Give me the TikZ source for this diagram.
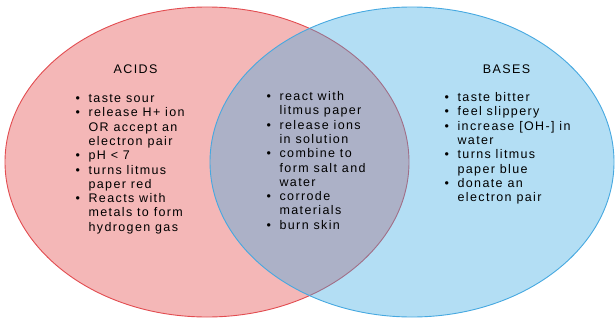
\documentclass[tikz,border=0pt]{standalone}
\usepackage{fontspec}
\setmainfont[LetterSpace=11]{Liberation Sans}
\usetikzlibrary{shapes.geometric}

\definecolor{acidfill}{RGB}{244,183,183}
\definecolor{acidedge}{RGB}{226,76,80}
\definecolor{basefill}{RGB}{55,168,226}
\definecolor{baseedge}{RGB}{70,168,224}

\tikzset{
  setshape/.style={draw,ellipse,inner sep=0pt,minimum width=404pt,minimum height=310pt,line width=0.9pt},
  heading/.style={anchor=base,font=\fontsize{12.5}{14.3}\selectfont},
  itemlist/.style={anchor=base west,inner sep=0pt,font=\fontsize{12.5}{14.3}\selectfont}
}

\newcommand{\bulletlist}[1]{\begin{tabular}[t]{@{}l@{\hspace{8.5pt}}l@{}}#1\end{tabular}}

\begin{document}
\begin{tikzpicture}[x=1pt,y=-1pt]

  \useasboundingbox (0,0) rectangle (615,321);

  % the two sets
  \node [setshape,fill=acidfill,draw=acidedge] at (207,162) (acidset) {};
  \node [setshape,fill=basefill,fill opacity=0.38,draw=baseedge,draw opacity=1] at (412,162) (baseset) {};

  % headings
  \node [heading] at (135.5,73.5) (acids) {ACIDS};
  \node [heading] at (506.5,73.5) (bases) {BASES};

  % lists
  \node [itemlist] at (75.5,102.5) (acidlist) {\bulletlist{%
    \textbullet & taste sour\\
    \textbullet & release H+ ion\\
                & OR accept an\\
                & electron pair\\
    \textbullet & pH < 7\\
    \textbullet & turns litmus\\
                & paper red\\
    \textbullet & Reacts with\\
                & metals to form\\
                & hydrogen gas}};

  \node [itemlist] at (266.5,100.5) (bothlist) {\bulletlist{%
    \textbullet & react with\\
                & litmus paper\\
    \textbullet & release ions\\
                & in solution\\
    \textbullet & combine to\\
                & form salt and\\
                & water\\
    \textbullet & corrode\\
                & materials\\
    \textbullet & burn skin}};

  \node [itemlist] at (444.5,101.5) (baselist) {\bulletlist{%
    \textbullet & taste bitter\\
    \textbullet & feel slippery\\
    \textbullet & increase [OH-] in\\
                & water\\
    \textbullet & turns litmus\\
                & paper blue\\
    \textbullet & donate an\\
                & electron pair}};

\end{tikzpicture}
\end{document}
